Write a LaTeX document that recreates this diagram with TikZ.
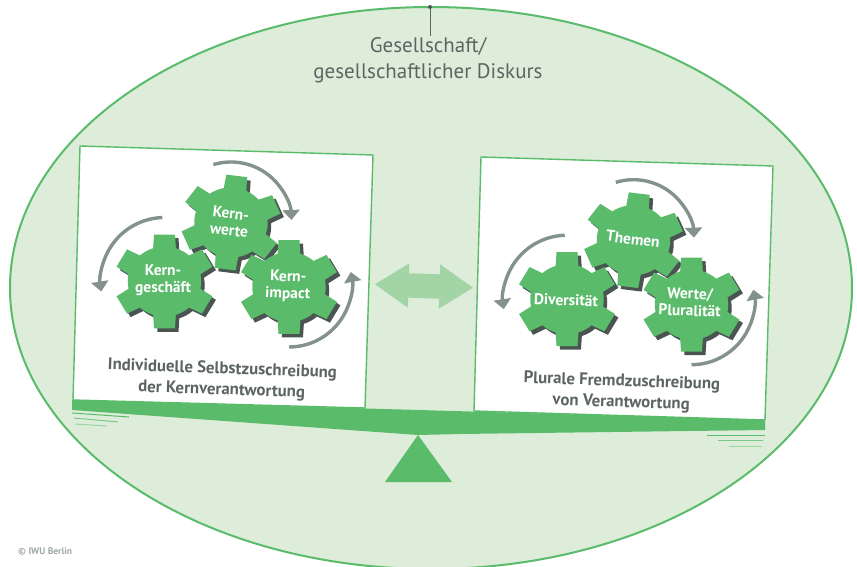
\documentclass[tikz,border=0pt]{standalone}
\usepackage{fontspec}
\setmainfont{PT Sans}
\usetikzlibrary{shapes.arrows,arrows.meta}
\definecolor{palegreen}{HTML}{DDEDDA}
\definecolor{iwugreen}{HTML}{5ABB6B}
\definecolor{swapgreen}{HTML}{A3D4A6}
\definecolor{darkslate}{HTML}{4A5552}
\definecolor{textslate}{HTML}{5C6563}
\definecolor{turngrey}{HTML}{84928C}
\tikzset{
  panel/.style={draw=iwugreen,fill=white,line width=1.4pt},
  gearbody/.style={fill=iwugreen},
  gearshadow/.style={fill=darkslate},
  geartext/.style={text=white,font=\bfseries\fontsize{15.5}{17}\selectfont,align=center,inner sep=0pt},
  paneltext/.style={text=textslate,font=\bfseries\fontsize{16.8}{21}\selectfont,align=center,inner sep=0pt},
  turnarrow/.style={draw=turngrey,line width=3.4pt,-{Triangle[width=17pt,length=10pt]}},
  restline/.style={line width=1pt},
  swaparrow/.style={shape=double arrow,fill=swapgreen,inner xsep=0pt,inner ysep=12pt,minimum width=44pt,minimum height=98pt,
    double arrow head extend=10pt,double arrow tip angle=67},
}
\newcommand{\gearpath}{(12:35)
  \foreach \a in {30,90,150,210,270,330}{
    -- (\a-18:35) -- (\a-12:48) -- (\a+12:48) -- (\a+18:35)
    arc[start angle=\a+18,end angle=\a+42,radius=35]
  } -- cycle}
\newcommand{\gearwheel}[2]{
  \fill[gearshadow,shift={(#1)},shift={(3.5,3.5)},rotate=#2,xscale=1.05] \gearpath;
  \fill[gearbody,shift={(#1)},rotate=#2,xscale=1.05] \gearpath;
}
\begin{document}
\begin{tikzpicture}[x=1pt,y=-1pt]
  \useasboundingbox (0,0) rectangle (857,567);
  \draw[fill=palegreen,draw=iwugreen,line width=2pt] (431,288) ellipse [x radius=421,y radius=281];
  % society
  \node[circle,fill=darkslate,inner sep=0pt,minimum size=4pt] (topdot) at (430,7) {};
  \coordinate (topend) at (430,36);
  \draw[textslate,line width=1pt] (topdot) -- (topend);
  \node[text=textslate,font=\fontsize{21}{26}\selectfont,align=center,inner sep=0pt] (society) at (428,60)
    {Gesellschaft/\\gesellschaftlicher Diskurs};
  % panels
  \draw[panel] (80,146) -- (373,155) -- (365,408) -- (73,400) -- cycle;
  \draw[panel] (481,157) -- (773,166) -- (765,420) -- (474,411) -- cycle;
  \node[swaparrow,rotate=-2] (swap) at (424,286) {};
  % beam and stand
  \fill[iwugreen] (72,400) -- (765,420) -- (765,430) -- (460,434) -- (418,435) -- (72,410) -- cycle;
  \fill[iwugreen] (418,435) -- (452,482) -- (385,482) -- cycle;
  \draw[restline,iwugreen] (72,413) -- (129,417);
  \draw[restline,iwugreen!75!palegreen] (74,418) -- (118,422);
  \draw[restline,iwugreen!50!palegreen] (75,424) -- (107,426);
  \draw[restline,iwugreen] (707,435) -- (765,435);
  \draw[restline,iwugreen!75!palegreen] (718,440) -- (763,440);
  \draw[restline,iwugreen!50!palegreen] (729,446) -- (762,446);
  % left gears
  \coordinate (cogwerte) at (231,222.5);
  \coordinate (coggeschaeft) at (164.5,281.5);
  \coordinate (cogimpact) at (289,287);
  \gearwheel{cogwerte}{-7}
  \gearwheel{coggeschaeft}{0}
  \gearwheel{cogimpact}{0}
  \node[geartext,rotate=-6] (kernwerte) at (230,222) {Kern-\\werte};
  \node[geartext] (kerngeschaeft) at (163,280) {Kern-\\geschäft};
  \node[geartext,rotate=-2] (kernimpact) at (288,286) {Kern-\\impact};
  \draw[turnarrow] ([shift={(-107:60.5)}]cogwerte) arc[start angle=-107,end angle=-2.4,radius=60.5];
  \draw[turnarrow] ([shift={(-92:64)}]coggeschaeft) arc[start angle=-92,end angle=-189,radius=64];
  \draw[turnarrow] ([shift={(90:60)}]cogimpact) arc[start angle=90,end angle=-11,radius=63];
  % right gears
  \coordinate (cogthemen) at (633.5,240.2);
  \coordinate (cogdivers) at (567,299.2);
  \coordinate (cogwerte2) at (691.5,304.7);
  \gearwheel{cogthemen}{-7}
  \gearwheel{cogdivers}{0}
  \gearwheel{cogwerte2}{0}
  \node[geartext,rotate=-7] (themen) at (633,239) {Themen};
  \node[geartext,rotate=-2] (diversitaet) at (566,300) {Diversität};
  \node[geartext,rotate=-2] (pluralitaet) at (690,302) {Werte/\\Pluralität};
  \draw[turnarrow] ([shift={(-107:60.5)}]cogthemen) arc[start angle=-107,end angle=-2.4,radius=60.5];
  \draw[turnarrow] ([shift={(-92:64)}]cogdivers) arc[start angle=-92,end angle=-189,radius=64];
  \draw[turnarrow] ([shift={(90:60)}]cogwerte2) arc[start angle=90,end angle=-11,radius=63];
  % panel captions
  \node[paneltext,rotate=-2] (selfcaption) at (222,380) {Individuelle Selbstzuschreibung\\der Kernverantwortung};
  \node[paneltext,rotate=-2] (othercaption) at (621.5,392.5) {Plurale Fremdzuschreibung\\von Verantwortung};
  \node[text=turngrey!80!white,font=\bfseries\fontsize{9.5}{11}\selectfont,anchor=west,inner sep=0pt] (credit) at (18,551) {© IWU Berlin};
\end{tikzpicture}
\end{document}
